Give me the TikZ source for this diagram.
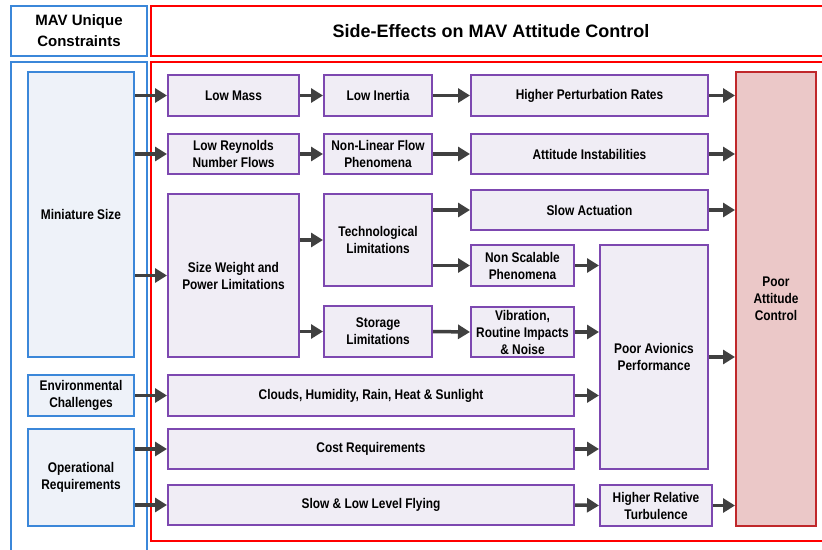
\documentclass[tikz,border=0pt]{standalone}
\usepackage{fontspec}
\setmainfont{Liberation Sans}
\newfontfamily\narrowfont{Liberation Sans}[FakeStretch=0.85]
\usetikzlibrary{arrows.meta}

\definecolor{cblue}{RGB}{59,135,217}
\definecolor{cbluefill}{RGB}{238,242,249}
\definecolor{cpurple}{RGB}{125,72,176}
\definecolor{cpurplefill}{RGB}{240,237,245}
\definecolor{cred}{RGB}{255,0,0}
\definecolor{cdarkred}{RGB}{192,40,43}
\definecolor{cpink}{RGB}{235,200,200}
\definecolor{carrow}{RGB}{64,64,64}

\tikzset{
	constraint/.style={draw=cblue, line width=2pt, fill=cbluefill, align=center,
		font=\narrowfont\bfseries\fontsize{14}{17}\selectfont, inner sep=0pt},
	effect/.style={draw=cpurple, line width=2pt, fill=cpurplefill, align=center,
		font=\narrowfont\bfseries\fontsize{14}{17}\selectfont, inner sep=0pt},
	header/.style={line width=1.5pt, align=center, inner sep=0pt},
	flow/.style={draw=carrow, line width=3.5pt, -{Triangle[length=12pt,width=14pt]}}
}

\begin{document}
\begin{tikzpicture}[x=1pt,y=-1pt]
		\useasboundingbox (0,0) rectangle (822,549);
		
		% Headers
		\node[header, draw=cblue, minimum width=136pt, minimum height=50pt,
			font=\bfseries\fontsize{15}{21}\selectfont] (hleft) at (79,31) {MAV Unique\\Constraints};
		\node[header, draw=cred, minimum width=680pt, minimum height=50pt,
			font=\bfseries\fontsize{18}{22}\selectfont] (hright) at (491,31) {Side-Effects on MAV Attitude Control};
		
		% Panels
		\draw[cblue, line width=1.5pt] (11,552) -- (11,62) -- (147,62) -- (147,552);
		\draw[cred, line width=1.5pt] (830,62) -- (151,62) -- (151,541) -- (830,541);
		
		% Constraints
		\node[constraint, minimum width=106pt, minimum height=285pt] (minisize) at (81,214.5) {Miniature Size};
		\node[constraint, minimum width=106pt, minimum height=41pt] (envchal) at (81,395.5) {Environmental\\Challenges};
		\node[constraint, minimum width=106pt, minimum height=97pt] (opreq) at (81,477.5) {Operational\\Requirements};
		
		% Side-effects
		\node[effect, minimum width=131pt, minimum height=41pt] (lowmass) at (233.5,95.5) {Low Mass};
		\node[effect, minimum width=108pt, minimum height=41pt] (lowinertia) at (378,95.5) {Low Inertia};
		\node[effect, minimum width=237pt, minimum height=41pt] (highpert) at (589.5,95.5) {Higher Perturbation Rates};
		
		\node[effect, minimum width=131pt, minimum height=40pt] (lowrey) at (233.5,154) {Low Reynolds\\Number Flows};
		\node[effect, minimum width=108pt, minimum height=40pt] (nonlin) at (378,154) {Non-Linear Flow\\Phenomena};
		\node[effect, minimum width=237pt, minimum height=40pt] (attinst) at (589.5,154) {Attitude Instabilities};
		
		\node[effect, minimum width=237pt, minimum height=40pt] (slowact) at (589.5,210) {Slow Actuation};
		\node[effect, minimum width=131pt, minimum height=163pt] (swap) at (233.5,275.5) {Size Weight and\\Power Limitations};
		\node[effect, minimum width=108pt, minimum height=92pt] (techlim) at (378,240) {Technological\\Limitations};
		\node[effect, minimum width=108pt, minimum height=51pt] (storlim) at (378,331.5) {Storage\\Limitations};
		\node[effect, minimum width=103pt, minimum height=41pt] (nonscal) at (522.5,265.5) {Non Scalable\\Phenomena};
		\node[effect, minimum width=103pt, minimum height=50pt] (vibr) at (522.5,332) {Vibration,\\Routine Impacts\\\& Noise};
		\node[effect, minimum width=108pt, minimum height=224pt] (poorav) at (654,357) {Poor Avionics\\Performance};
		
		\node[effect, minimum width=406pt, minimum height=41pt] (clouds) at (371,395.5) {Clouds, Humidity, Rain, Heat \& Sunlight};
		\node[effect, minimum width=406pt, minimum height=40pt] (cost) at (371,449) {Cost Requirements};
		\node[effect, minimum width=406pt, minimum height=40pt] (slowlow) at (371,505) {Slow \& Low Level Flying};
		\node[effect, minimum width=112pt, minimum height=41pt] (hrt) at (656,505.5) {Higher Relative\\Turbulence};
		
		% Outcome
		\node[effect, draw=cdarkred, fill=cpink, minimum width=80pt, minimum height=454pt] (pac) at (776,299) {Poor\\Attitude\\Control};
		
		% Arrows
		\foreach \a/\b in {lowmass/lowinertia, lowinertia/highpert, lowrey/nonlin, nonlin/attinst,
			storlim/vibr, envchal/clouds, slowlow/hrt}
		\draw[flow] (\a.east) -- (\b.west);
		\foreach \a/\b in {minisize/lowmass, minisize/lowrey, minisize/swap, swap/techlim, swap/storlim,
			techlim/slowact, techlim/nonscal, opreq/cost, opreq/slowlow}
		\draw[flow] (\a.east |- \b.west) -- (\b.west);
		\foreach \a/\b in {highpert/pac, attinst/pac, slowact/pac, nonscal/poorav, vibr/poorav,
			clouds/poorav, cost/poorav, poorav/pac, hrt/pac}
		\draw[flow] (\a.east) -- (\a.east -| \b.west);
\end{tikzpicture}
\end{document}
